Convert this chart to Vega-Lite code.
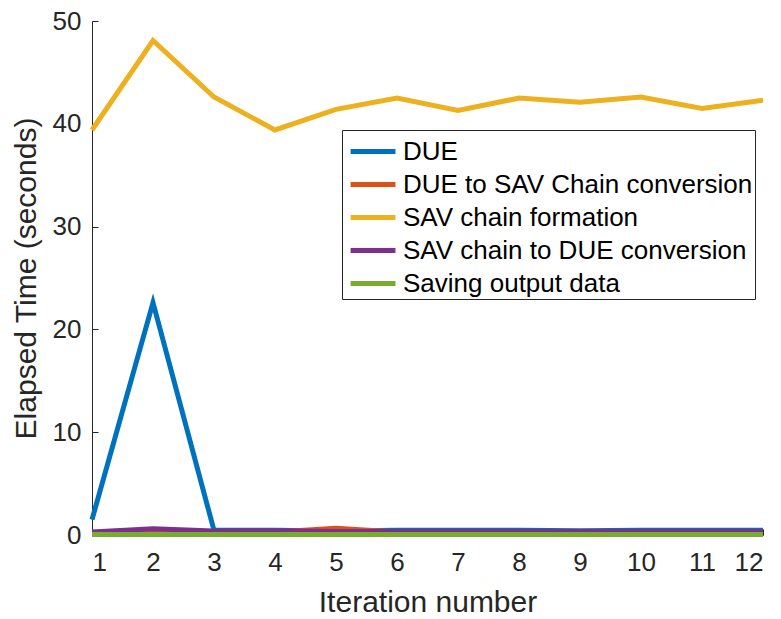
{
  "$schema": "https://vega.github.io/schema/vega-lite/v6.json",
  "autosize": {"type": "none"},
  "width": 671,
  "height": 514,
  "padding": {"left": 92, "top": 21, "right": 18, "bottom": 84},
  "background": "white",
  "config": {
    "view": {"stroke": null},
    "font": "Liberation Sans",
    "axis": {"grid": false, "domainColor": "#262626", "tickColor": "#262626", "labelColor": "#262626", "titleColor": "#262626", "labelFont": "Liberation Sans", "titleFont": "Liberation Sans", "labelFontSize": 26, "titleFontSize": 30, "titleFontWeight": "normal", "tickSize": -6, "domainWidth": 1}
  },
  "data": {"values": [
    {"iter": 1, "series": "DUE", "time": 1.5},
    {"iter": 2, "series": "DUE", "time": 22.6},
    {"iter": 3, "series": "DUE", "time": 0.45},
    {"iter": 4, "series": "DUE", "time": 0.45},
    {"iter": 5, "series": "DUE", "time": 0.4},
    {"iter": 6, "series": "DUE", "time": 0.45},
    {"iter": 7, "series": "DUE", "time": 0.45},
    {"iter": 8, "series": "DUE", "time": 0.45},
    {"iter": 9, "series": "DUE", "time": 0.42},
    {"iter": 10, "series": "DUE", "time": 0.45},
    {"iter": 11, "series": "DUE", "time": 0.47},
    {"iter": 12, "series": "DUE", "time": 0.45},
    {"iter": 1, "series": "DUE to SAV Chain conversion", "time": 0.2},
    {"iter": 2, "series": "DUE to SAV Chain conversion", "time": 0.25},
    {"iter": 3, "series": "DUE to SAV Chain conversion", "time": 0.25},
    {"iter": 4, "series": "DUE to SAV Chain conversion", "time": 0.3},
    {"iter": 5, "series": "DUE to SAV Chain conversion", "time": 0.65},
    {"iter": 6, "series": "DUE to SAV Chain conversion", "time": 0.3},
    {"iter": 7, "series": "DUE to SAV Chain conversion", "time": 0.3},
    {"iter": 8, "series": "DUE to SAV Chain conversion", "time": 0.3},
    {"iter": 9, "series": "DUE to SAV Chain conversion", "time": 0.3},
    {"iter": 10, "series": "DUE to SAV Chain conversion", "time": 0.3},
    {"iter": 11, "series": "DUE to SAV Chain conversion", "time": 0.3},
    {"iter": 12, "series": "DUE to SAV Chain conversion", "time": 0.3},
    {"iter": 1, "series": "SAV chain formation", "time": 39.4},
    {"iter": 2, "series": "SAV chain formation", "time": 48.1},
    {"iter": 3, "series": "SAV chain formation", "time": 42.6},
    {"iter": 4, "series": "SAV chain formation", "time": 39.4},
    {"iter": 5, "series": "SAV chain formation", "time": 41.4},
    {"iter": 6, "series": "SAV chain formation", "time": 42.5},
    {"iter": 7, "series": "SAV chain formation", "time": 41.3},
    {"iter": 8, "series": "SAV chain formation", "time": 42.5},
    {"iter": 9, "series": "SAV chain formation", "time": 42.1},
    {"iter": 10, "series": "SAV chain formation", "time": 42.6},
    {"iter": 11, "series": "SAV chain formation", "time": 41.5},
    {"iter": 12, "series": "SAV chain formation", "time": 42.3},
    {"iter": 1, "series": "SAV chain to DUE conversion", "time": 0.3},
    {"iter": 2, "series": "SAV chain to DUE conversion", "time": 0.6},
    {"iter": 3, "series": "SAV chain to DUE conversion", "time": 0.4},
    {"iter": 4, "series": "SAV chain to DUE conversion", "time": 0.42},
    {"iter": 5, "series": "SAV chain to DUE conversion", "time": 0.35},
    {"iter": 6, "series": "SAV chain to DUE conversion", "time": 0.35},
    {"iter": 7, "series": "SAV chain to DUE conversion", "time": 0.35},
    {"iter": 8, "series": "SAV chain to DUE conversion", "time": 0.35},
    {"iter": 9, "series": "SAV chain to DUE conversion", "time": 0.35},
    {"iter": 10, "series": "SAV chain to DUE conversion", "time": 0.35},
    {"iter": 11, "series": "SAV chain to DUE conversion", "time": 0.35},
    {"iter": 12, "series": "SAV chain to DUE conversion", "time": 0.35},
    {"iter": 1, "series": "Saving output data", "time": 0.05},
    {"iter": 2, "series": "Saving output data", "time": 0.05},
    {"iter": 3, "series": "Saving output data", "time": 0.05},
    {"iter": 4, "series": "Saving output data", "time": 0.05},
    {"iter": 5, "series": "Saving output data", "time": 0.05},
    {"iter": 6, "series": "Saving output data", "time": 0.05},
    {"iter": 7, "series": "Saving output data", "time": 0.05},
    {"iter": 8, "series": "Saving output data", "time": 0.05},
    {"iter": 9, "series": "Saving output data", "time": 0.05},
    {"iter": 10, "series": "Saving output data", "time": 0.05},
    {"iter": 11, "series": "Saving output data", "time": 0.05},
    {"iter": 12, "series": "Saving output data", "time": 0.05}
  ]},
  "mark": {"type": "line", "strokeWidth": 5, "clip": false},
  "encoding": {
    "x": {"field": "iter", "type": "quantitative", "scale": {"domain": [1, 12], "nice": false, "zero": false},
      "axis": {"title": "Iteration number", "values": [1,2,3,4,5,6,7,8,9,10,11,12], "labelPadding": 20, "titlePadding": 12}},
    "y": {"field": "time", "type": "quantitative", "scale": {"domain": [0, 50], "nice": false},
      "axis": {"title": "Elapsed Time (seconds)", "values": [0,10,20,30,40,50], "labelPadding": 17, "titlePadding": 11}},
    "color": {"field": "series", "type": "nominal",
      "scale": {"domain": ["DUE", "DUE to SAV Chain conversion", "SAV chain formation", "SAV chain to DUE conversion", "Saving output data"],
        "range": ["#0072BD", "#D95319", "#EDB120", "#7E2F8E", "#77AC30"]},
      "legend": {"title": null, "orient": "none", "legendX": 250, "legendY": 109, "symbolType": "M-0.76,0H1.88", "symbolStrokeWidth": 5, "symbolSize": 1156, "labelFontSize": 26, "labelColor": "#000000", "labelFont": "Liberation Sans", "strokeColor": "#262626", "fillColor": "white", "padding": 2, "rowPadding": 0, "labelOffset": 20, "labelLimit": 420}}
  }
}
